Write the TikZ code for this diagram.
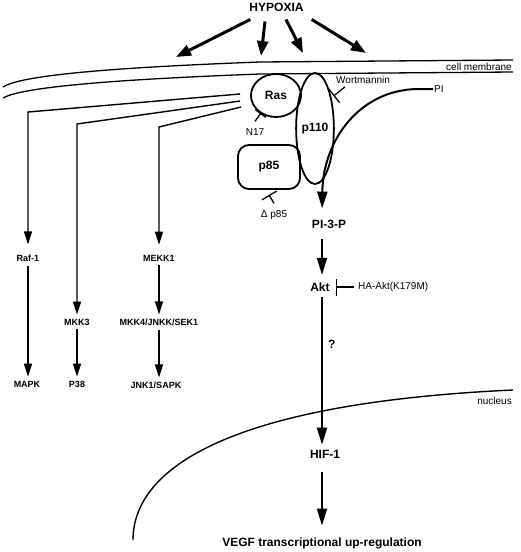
\documentclass[tikz,border=0pt]{standalone}
\usepackage{fontspec}
\setmainfont{Liberation Sans}
\usetikzlibrary{arrows.meta, shapes.geometric}

\begin{document}
\begin{tikzpicture}[x=1pt, y=-1pt,
  kin/.style={font=\bfseries\fontsize{9}{10}\selectfont, inner xsep=1pt, inner ysep=4pt},
  mol/.style={font=\bfseries\fontsize{12}{14}\selectfont, inner sep=1pt},
  note/.style={font=\fontsize{10}{12}\selectfont, inner sep=1pt},
  cascade/.style={-{Triangle[length=13pt,width=8pt]}, line width=1.4pt},
  main arrow/.style={-{Triangle[length=17pt,width=10pt]}, line width=2pt},
  hyp arrow/.style={-{Triangle[length=15pt,width=11pt]}, line width=3pt},
  block/.style={-{Bar[width=#1]}, line width=1.3pt},
  protein/.style={draw, mol, line width=1.8pt, inner sep=0pt}]

  \useasboundingbox (0,0) rectangle (520,552);

  % membranes
  \draw[line width=1.3pt] (3,87) .. controls (20,76) and (100,68) .. (260,62) -- (513,60);
  \draw[line width=1.3pt] (3,98) .. controls (20,88) and (100,80) .. (260,74) -- (513,72);
  \draw[line width=1.4pt] (133,540) .. controls (133,468) and (230,403) .. (513,390);
  \node[note, anchor=base east] (cm) at (513,70.5) {cell membrane};
  \node[note, anchor=base east] (nuc) at (513,404) {nucleus};

  % hypoxia
  \node[mol] (hyp) at (276.5,7) {HYPOXIA};
  \coordinate (h1) at (176,57);
  \coordinate (h2) at (261,56);
  \coordinate (h3) at (303,53);
  \coordinate (h4) at (366,53);
  \draw[hyp arrow] ([xshift=2pt,yshift=-7pt]hyp.south west) -- (h1);
  \draw[hyp arrow] ([xshift=-11.5pt,yshift=-9pt]hyp.south) -- (h2);
  \draw[hyp arrow] ([xshift=9.5pt,yshift=-7pt]hyp.south) -- (h3);
  \draw[hyp arrow] ([xshift=7pt,yshift=-7pt]hyp.south east) -- (h4);

  % PI3K complex
  \node[protein, ellipse, minimum width=50pt, minimum height=43pt] (ras) at (276,95.5) {Ras};
  \node[protein, ellipse, minimum width=36pt, minimum height=111pt] (p110) at (315,128.5) {p110};
  \node[protein, rectangle, rounded corners=11pt, minimum width=62pt, minimum height=44pt] (p85) at (269,167) {p85};

  % inhibitors
  \node[note] (n17) at (255,132) {N17};
  \coordinate (n17bar) at (261,113);
  \draw[block=13pt] ([yshift=6pt]n17.north) -- (n17bar);
  \node[note] (dp85) at (274,215) {Δ p85};
  \draw[block=17pt] ([yshift=6pt]dp85.north) -- ([yshift=-5pt]p85.south);
  \node[note, anchor=west] (wort) at (335,80) {Wortmannin};
  \coordinate (wbar) at (333.5,96);
  \draw[block=18pt] ([xshift=10pt,yshift=-2pt]wort.south west) -- (wbar);

  % PI3K / Akt axis
  \coordinate (ax) at (322,0);
  \node[note, anchor=west] (pi) at (433,89) {PI};
  \node[mol] (pi3p) at (329,224) {PI-3-P};
  \node[mol] (akt) at (320,287) {Akt};
  \node[note, anchor=west] (haakt) at (357,287) {HA-Akt(K179M)};
  \node[mol] (hif) at (325,454) {HIF-1};
  \node[mol] (vegf) at (322,543.5) {VEGF transcriptional up-regulation};

  \draw[main arrow, shorten >=10pt] (pi.west) -- ++(-14,0)
    .. controls (360,89) and (323,140) .. (pi3p.north -| ax);
  \draw[main arrow, shorten <=10pt, shorten >=6.5pt] (pi3p.south -| ax) -- (akt.north -| ax);
  \draw[main arrow, shorten <=4pt, shorten >=4pt] (akt.south -| ax) -- (hif.north -| ax)
    node[mol, pos=0.33, right=4pt] (q) {?};
  \draw[main arrow, shorten <=13pt, shorten >=11pt] (hif.south -| ax) -- (vegf.north -| ax);
  \draw[block=17pt] ([xshift=-3pt]haakt.west) -- ([xshift=5pt]akt.east);

  % MAP kinase cascades
  \node[kin] (raf) at (28,258) {Raf-1};
  \node[kin] (mapk) at (27,384) {MAPK};
  \node[kin] (mkk3) at (77,322) {MKK3};
  \node[kin] (p38) at (77,384) {P38};
  \node[kin] (mekk) at (159,258) {MEKK1};
  \node[kin] (mkk4) at (159,322) {MKK4/JNKK/SEK1};
  \node[kin] (jnk) at (156,385) {JNK1/SAPK};

  \coordinate (rs1) at ([xshift=-10pt,yshift=1.5pt]ras.west);
  \coordinate (rs2) at ([xshift=-10pt,yshift=-5.5pt]ras.west);
  \coordinate (rs3) at ([xshift=-9pt,yshift=-11.5pt]ras.west);
  \coordinate (c1) at (28,112);
  \coordinate (c2) at (77,124);
  \coordinate (c3) at (159,127);

  \draw[cascade, shorten >=6pt] (rs1) -- (c1) -- (raf);
  \draw[cascade] (rs2) -- (c2) -- (mkk3);
  \draw[cascade, shorten >=6pt] (rs3) -- (c3) -- (mekk);
  \draw[cascade] (raf) -- (mapk.north -| raf);
  \draw[cascade] (mkk3) -- (p38);
  \draw[cascade] (mekk) -- (mkk4);
  \draw[cascade] (mkk4) -- (jnk.north -| mkk4);
\end{tikzpicture}
\end{document}
